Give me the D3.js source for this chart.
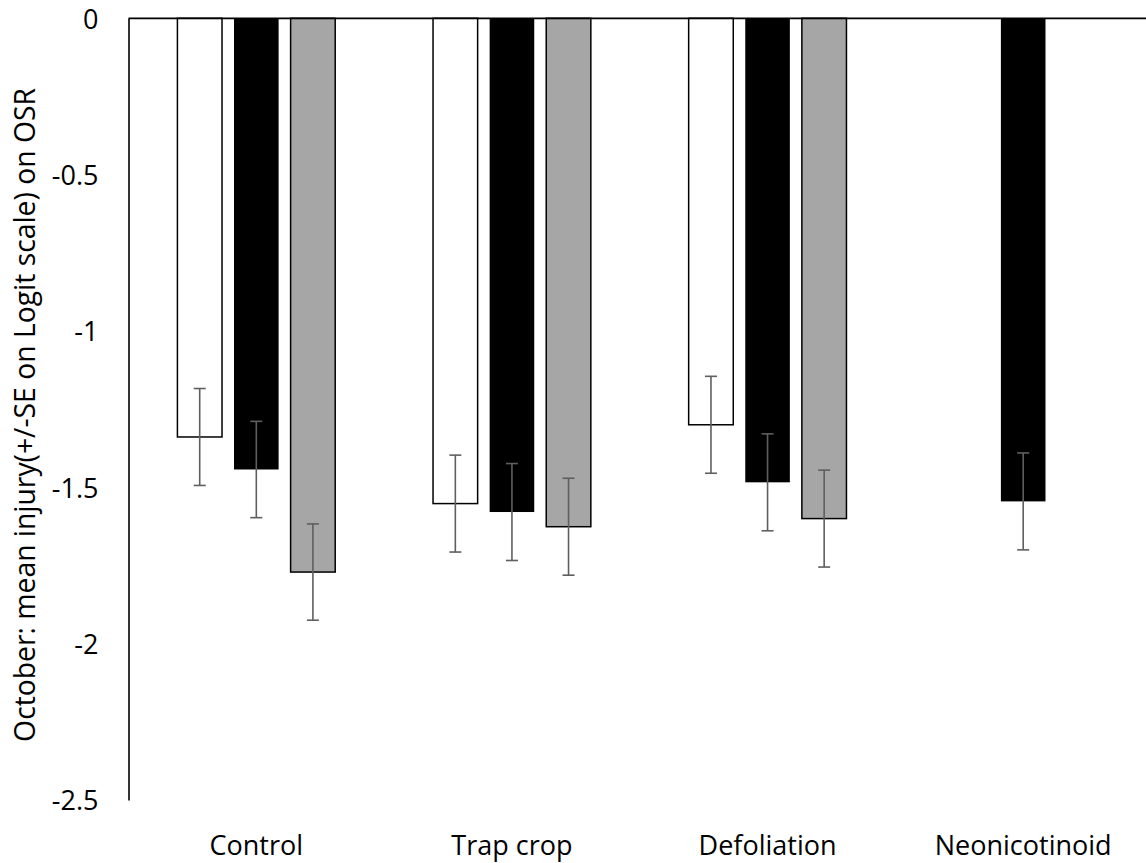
<!DOCTYPE html>
<html>
<head>
<meta charset="utf-8">
<script src="https://cdn.jsdelivr.net/npm/d3@7"></script>
<style>
  html, body { margin: 0; padding: 0; background: #fff; }
  svg { display: block; }
  text { font-family: "Open Sans", "Liberation Sans", sans-serif; fill: #000; }
</style>
</head>
<body>
<svg id="chart" width="1146" height="863"></svg>
<script>
// ---- data ----
const categories = ["Control", "Trap crop", "Defoliation", "Neonicotinoid"];
const seriesNames = ["Series A", "Series B", "Series C"];
const seriesA = [-1.339, -1.552, -1.300, null];
const seriesB = [-1.443, -1.579, -1.484, -1.545];
const seriesC = [-1.771, -1.626, -1.600, null];
const seA = [0.155, 0.155, 0.155, null];
const seB = [0.154, 0.155, 0.155, 0.155];
const seC = [0.154, 0.155, 0.155, null];
const yTicks = [0, -0.5, -1, -1.5, -2, -2.5];
const yTitle = "October: mean injury(+/-SE on Logit scale) on OSR";

const seriesValues = [seriesA, seriesB, seriesC];
const seriesSE = [seA, seB, seC];
const fills = ["#ffffff", "#000000", "#a6a6a6"];
const strokes = ["#000000", "none", "#000000"];

const svg = d3.select("#chart");
const y = d3.scaleLinear().domain([0, -2.5]).range([18.3, 800]);
const x0 = d3.scaleBand().domain(categories).range([128.5, 1151]).paddingInner(0).paddingOuter(0);
const groupW = 157.8;
const x1 = d3.scaleBand().domain(seriesNames)
  .range([(x0.bandwidth() - groupW) / 2, (x0.bandwidth() + groupW) / 2])
  .paddingInner(0.212).paddingOuter(0);

// flatten rows
const rows = [];
categories.forEach((c, i) => {
  seriesNames.forEach((s, j) => {
    const v = seriesValues[j][i];
    if (v !== null && v !== undefined) rows.push({ cat: c, ser: s, j, v, se: seriesSE[j][i] });
  });
});

// bars
svg.append("g").selectAll("rect").data(rows).join("rect")
  .attr("x", d => x0(d.cat) + x1(d.ser))
  .attr("y", d => y(0))
  .attr("width", x1.bandwidth())
  .attr("height", d => y(d.v) - y(0))
  .attr("fill", d => fills[d.j])
  .attr("stroke", d => strokes[d.j])
  .attr("stroke-width", 1.5);

// error bars
const eg = svg.append("g").attr("stroke", "#5f5f5f").attr("stroke-width", 1.6);
rows.forEach(d => {
  const cx = x0(d.cat) + x1(d.ser) + x1.bandwidth() / 2;
  eg.append("line").attr("x1", cx).attr("x2", cx).attr("y1", y(d.v + d.se)).attr("y2", y(d.v - d.se));
  [d.v + d.se, d.v - d.se].forEach(t => {
    eg.append("line").attr("x1", cx - 6).attr("x2", cx + 6).attr("y1", y(t)).attr("y2", y(t));
  });
});

// axes
const yAxis = d3.axisLeft(y).tickValues(yTicks).tickSize(0).tickPadding(30)
  .tickFormat(d => d3.format("")(d).replace("\u2212", "-"));
const gy = svg.append("g").attr("transform", "translate(128.5,0)").call(yAxis);
gy.select(".domain").attr("stroke", "#000").attr("stroke-width", 1.6);
gy.selectAll(".tick text").attr("font-size", 27).attr("x", -30).attr("dy", "0.36em")
  .style("font-family", "'Open Sans', sans-serif").attr("fill", "#000");

// zero line (x axis)
svg.append("line").attr("x1", 128.5).attr("x2", 1146).attr("y1", y(0)).attr("y2", y(0))
  .attr("stroke", "#000").attr("stroke-width", 1.7);

// category labels
const xAxis = d3.axisBottom(x0).tickSize(0).tickPadding(0);
const gx = svg.append("g").attr("transform", "translate(0,855)").call(xAxis);
gx.select(".domain").remove();
gx.selectAll(".tick text").attr("font-size", 27).attr("y", 0).attr("dy", 0)
  .style("font-family", "'Open Sans', sans-serif").attr("fill", "#000");

// y title
const title = svg.append("text")
  .attr("transform", "translate(35,415) rotate(-90)")
  .attr("text-anchor", "middle")
  .attr("font-size", 27)
  .text(yTitle);
const w = title.node().getComputedTextLength();
title.attr("font-size", 27 * 654 / w);
</script>
</body>
</html>
